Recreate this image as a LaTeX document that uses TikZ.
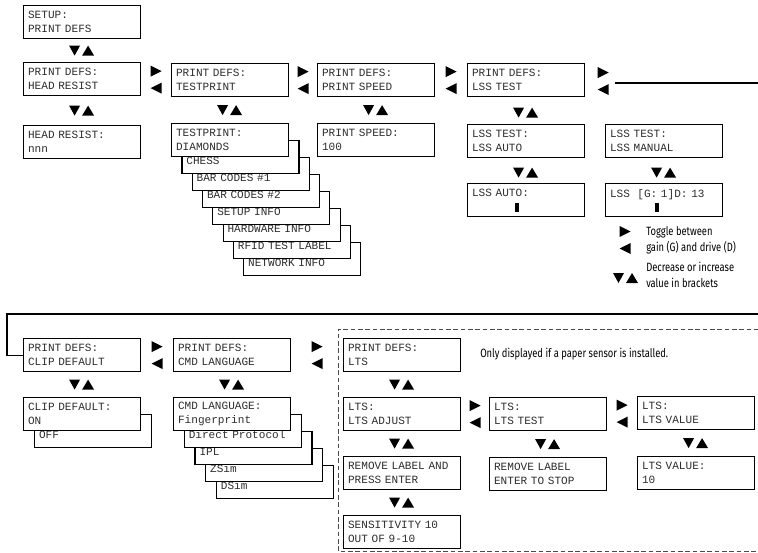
\documentclass[tikz,border=0pt]{standalone}
\usepackage{fontspec}
\usetikzlibrary{positioning, calc}
\newfontfamily\lcdfont{Liberation Mono}
\newfontfamily\notefont[FakeStretch=0.78]{Fira Sans}
\definecolor{LcdText}{HTML}{2E2E2E}
\definecolor{FrameGray}{HTML}{4A4A4A}
\tikzset{
  lcd/.style={draw=black, line width=0.9pt, fill=white, anchor=north west, minimum width=87.75pt, minimum height=24.75pt, text width=81pt, inner xsep=3.3pt, inner ysep=2pt, align=left, text=LcdText, font=\lcdfont\fontsize{8.3}{10.5}\selectfont},
  note/.style={anchor=west, align=left, inner sep=0pt, font=\notefont\fontsize{9}{12}\selectfont},
  wire/.style={line width=0.8pt},
  optframe/.style={draw=FrameGray, line width=0.6pt, dash pattern=on 3.5pt off 2pt},
  pics/updown/.style={code={
    \fill (-13,-5) -- (-2,-5) -- (-7.5,5) -- cycle;
    \fill (0,5) -- (12,5) -- (6,-5) -- cycle;
  }},
  pics/leftright/.style={code={
    \fill (-5.5,-14) -- (5.5,-8.5) -- (-5.5,-3) -- cycle;
    \fill (5.5,3) -- (-5.5,8.5) -- (5.5,14) -- cycle;
  }}
}

\begin{document}
\begin{tikzpicture}[x=0.75pt, y=-0.75pt]
\useasboundingbox (0,0) rectangle (758,553);

% top row
\node[lcd] (setup) at (23,5) {SETUP:\\PRINT DEFS};
\node[lcd] (headres) at (23,62) {PRINT DEFS:\\HEAD RESIST};
\node[lcd] (testprint) at (171,63) {PRINT DEFS:\\TESTPRINT};
\node[lcd] (printspeed) at (317,63) {PRINT DEFS:\\PRINT SPEED};
\node[lcd] (lsstest) at (467,63) {PRINT DEFS:\\LSS TEST};

\node[lcd] (headval) at (23,125) {HEAD RESIST:\\nnn};
\coordinate (tpcorner) at (171,123);
\foreach \k/\txt in {7/NETWORK INFO, 6/RFID TEST LABEL, 5/HARDWARE INFO, 4/SETUP INFO, 3/BAR CODES \#2, 2/BAR CODES \#1, 1/CHESS}
  \node[lcd] (tp\k) at ($(tpcorner)+\k*(10.3,17)$) {\mbox{}\\\txt};
\node[lcd] (tpval) at (tpcorner) {TESTPRINT:\\DIAMONDS};
\node[lcd] (speedval) at (317,123) {PRINT SPEED:\\100};

% LSS
\node[lcd] (lssauto) at (467,124) {LSS TEST:\\LSS AUTO};
\node[lcd] (lssmanual) at (605,124) {LSS TEST:\\LSS MANUAL};
\node[lcd] (autoval) at (467,183) {LSS AUTO:\\\mbox{}};
\node[lcd] (manualval) at (605,183) {LSS~~[G: 1]D: 13\\\mbox{}};
\fill ($(autoval.north west)+(48,20)$) rectangle +(4,9);
\fill ($(manualval.north west)+(50,20)$) rectangle +(4,9);

\pic at ($(setup.south)!0.5!(headres.north)$) {updown};
\pic at ($(headres.south)!0.5!(headval.north)$) {updown};
\pic at ($(testprint.south)!0.5!(tpval.north)$) {updown};
\pic at ($(printspeed.south)!0.5!(speedval.north)$) {updown};
\pic at ($(lsstest.south)!0.5!(lssauto.north)+(0,2)$) {updown};
\pic at ($(lssauto.south)!0.5!(autoval.north)+(0,2)$) {updown};
\pic at ($(lssmanual.south)!0.5!(manualval.north)+(0,2)$) {updown};
\pic at ($(headres.east)!0.5!(testprint.west)$) {leftright};
\pic at ($(testprint.east)!0.5!(printspeed.west)$) {leftright};
\pic at ($(printspeed.east)!0.5!(lsstest.west)$) {leftright};
\pic at ($(lsstest.east)+(18,1)$) {leftright};

% legend
\pic at (625,240) {leftright};
\node[note] (togglenote) at (646,240) {Toggle between\\gain (G) and drive (D)};
\pic at (626,278) {updown};
\node[note] (bracketnote) at (646,275) {Decrease or increase\\value in brackets};

% wrap to second row
\coordinate (wrapA) at (615,83);
\coordinate (wrapB) at (766,83);
\coordinate (wrapC) at (766,314);
\coordinate (wrapD) at (7,314);
\draw[wire] (wrapA) -- (wrapB);

% bottom row
\node[lcd] (clip) at (23,338) {PRINT DEFS:\\CLIP DEFAULT};
\node[lcd] (cmdlang) at (173,338) {PRINT DEFS:\\CMD LANGUAGE};
\draw[wire] (wrapC) -- (wrapD) |- (clip.west);

\coordinate (clipcorner) at (23,397);
\node[lcd] (clip1) at ($(clipcorner)+(11,17)$) {\mbox{}\\OFF};
\node[lcd] (clipval) at (clipcorner) {CLIP DEFAULT:\\ON};

\coordinate (cmdcorner) at (173,397);
\foreach \k/\txt in {4/DSim, 3/ZSim, 2/IPL, 1/Direct Protocol}
  \node[lcd] (cmd\k) at ($(cmdcorner)+\k*(10.7,17)$) {\mbox{}\\\txt};
\node[lcd] (cmdval) at (cmdcorner) {CMD LANGUAGE:\\Fingerprint};

\pic at ($(clip.south)!0.5!(clipval.north)$) {updown};
\pic at ($(cmdlang.south)!0.5!(cmdval.north)$) {updown};
\pic at ($(clip.east)!0.5!(cmdlang.west)$) {leftright};

% LTS, paper sensor only
\draw[optframe] (766,329) -- (338,329) -- (338,551) -- (766,551);
\node[lcd] (lts) at (343,338) {PRINT DEFS:\\LTS};
\node[note] (sensornote) at (480,354) {Only displayed if a paper sensor is installed.};
\node[lcd] (ltsadj) at (343,397) {LTS:\\LTS ADJUST};
\node[lcd] (ltstest) at (489,397) {LTS:\\LTS TEST};
\node[lcd] (ltsvalue) at (637,396) {LTS:\\LTS VALUE};
\node[lcd] (remove1) at (343,456) {REMOVE LABEL AND\\PRESS ENTER};
\node[lcd] (remove2) at (489,457) {REMOVE LABEL\\ENTER TO STOP};
\node[lcd] (ltsval10) at (637,456) {LTS VALUE:\\10};
\node[lcd] (sens) at (343,515) {SENSITIVITY 10\\OUT OF 9-10};

\pic at ($(cmdlang.east)!0.5!(lts.west)$) {leftright};
\pic at ($(lts.south)!0.5!(ltsadj.north)$) {updown};
\pic at ($(ltsadj.south)!0.5!(remove1.north)$) {updown};
\pic at ($(ltstest.south)!0.5!(remove2.north)$) {updown};
\pic at ($(ltsvalue.south)!0.5!(ltsval10.north)$) {updown};
\pic at ($(remove1.south)!0.5!(sens.north)$) {updown};
\pic at ($(ltsadj.east)!0.5!(ltstest.west)$) {leftright};
\pic at ($(ltstest.east)!0.5!(ltsvalue.west)$) {leftright};
\end{tikzpicture}
\end{document}
